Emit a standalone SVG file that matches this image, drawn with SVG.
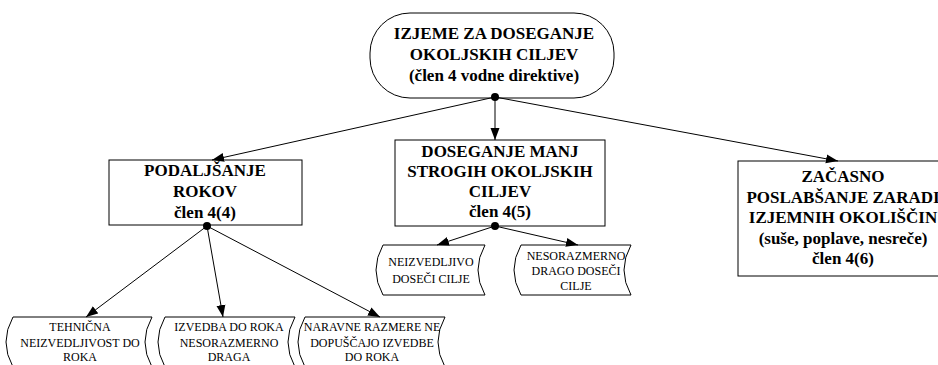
<svg xmlns="http://www.w3.org/2000/svg" width="938" height="365" viewBox="0 0 938 365">
<defs>
<style>
.shape{fill:#fff;stroke:#000;stroke-width:1}
.b{font-family:'Liberation Serif','Times New Roman','DejaVu Serif',serif;font-weight:bold;font-size:17px;fill:#000;text-anchor:middle}
.r{font-family:'Liberation Serif','Times New Roman','DejaVu Serif',serif;font-size:12px;fill:#000;text-anchor:middle}
.con{stroke:#000;stroke-width:1;fill:none}
</style>
<marker id="ah" viewBox="0 0 12 10" refX="12" refY="5" markerWidth="12" markerHeight="10" markerUnits="userSpaceOnUse" orient="auto">
<path d="M0,0.5 L12,5 L0,9.5 Z" fill="#000"/>
</marker>
</defs>
<rect width="938" height="365" fill="#fff"/>
<g id="n0">
<rect class="shape" x="370" y="13" width="244" height="85" rx="40" ry="40"/>
<text class="b" x="494" y="39">IZJEME ZA DOSEGANJE</text>
<text class="b" x="494" y="60">OKOLJSKIH CILJEV</text>
<text class="b" x="494" y="81">(člen 4 vodne direktive)</text>
</g>
<g id="n1">
<rect class="shape" x="109" y="160" width="193" height="65"/>
<text class="b" x="205" y="176">PODALJŠANJE</text>
<text class="b" x="205" y="197">ROKOV</text>
<text class="b" x="205" y="218">člen 4(4)</text>
</g>
<g id="n2">
<rect class="shape" x="395" y="140" width="210" height="86"/>
<text class="b" x="500" y="157">DOSEGANJE MANJ</text>
<text class="b" x="500" y="177">STROGIH OKOLJSKIH</text>
<text class="b" x="500" y="197">CILJEV</text>
<text class="b" x="500" y="217">člen 4(5)</text>
</g>
<g id="n3">
<rect class="shape" x="738" y="161" width="210" height="115"/>
<text class="b" x="843" y="182">ZAČASNO</text>
<text class="b" x="843" y="203">POSLABŠANJE ZARADI</text>
<text class="b" x="843" y="223">IZJEMNIH OKOLIŠČIN</text>
<text class="b" x="843" y="244">(suše, poplave, nesreče)</text>
<text class="b" x="843" y="264">člen 4(6)</text>
</g>
<g id="n4">
<path class="shape" d="M383,245 L485,245 Q471,270 485,295 L383,295 Q369,270 383,245 Z"/>
<text class="r" x="431" y="266">NEIZVEDLJIVO</text>
<text class="r" x="431" y="283">DOSEČI CILJE</text>
</g>
<g id="n5">
<path class="shape" d="M521,245 L631,245 Q617,270 631,295 L521,295 Q507,270 521,245 Z"/>
<text class="r" x="576" y="260">NESORAZMERNO</text>
<text class="r" x="576" y="275">DRAGO DOSEČI</text>
<text class="r" x="576" y="290">CILJE</text>
</g>
<g id="n6">
<path class="shape" d="M13,317 L152,317 Q138,342 152,367 L13,367 Q-1,342 13,317 Z"/>
<text class="r" x="80" y="331">TEHNIČNA</text>
<text class="r" x="80" y="347">NEIZVEDLJIVOST DO</text>
<text class="r" x="80" y="361">ROKA</text>
</g>
<g id="n7">
<path class="shape" d="M165,317 L295,317 Q281,342 295,367 L165,367 Q151,342 165,317 Z"/>
<text class="r" x="229" y="331">IZVEDBA DO ROKA</text>
<text class="r" x="229" y="347">NESORAZMERNO</text>
<text class="r" x="229" y="361">DRAGA</text>
</g>
<g id="n8">
<path class="shape" d="M305,317 L445,317 Q431,342 445,367 L305,367 Q291,342 305,317 Z"/>
<text class="r" x="372" y="331">NARAVNE RAZMERE NE</text>
<text class="r" x="372" y="347">DOPUŠČAJO IZVEDBE</text>
<text class="r" x="372" y="361">DO ROKA</text>
</g>
<g id="connectors">
<line class="con" marker-end="url(#ah)" x1="495" y1="97" x2="212" y2="160"/>
<line class="con" marker-end="url(#ah)" x1="495" y1="97" x2="495" y2="140"/>
<line class="con" marker-end="url(#ah)" x1="495" y1="97" x2="838" y2="161"/>
<line class="con" marker-end="url(#ah)" x1="495" y1="226" x2="437" y2="245"/>
<line class="con" marker-end="url(#ah)" x1="495" y1="226" x2="578" y2="245"/>
<line class="con" marker-end="url(#ah)" x1="207" y1="226" x2="86" y2="317"/>
<line class="con" marker-end="url(#ah)" x1="207" y1="226" x2="223" y2="317"/>
<line class="con" marker-end="url(#ah)" x1="207" y1="226" x2="380" y2="317"/>
<circle fill="#000" cx="495" cy="97" r="4"/>
<circle fill="#000" cx="495" cy="226" r="4"/>
<circle fill="#000" cx="207" cy="226" r="4"/>
</g>
</svg>
